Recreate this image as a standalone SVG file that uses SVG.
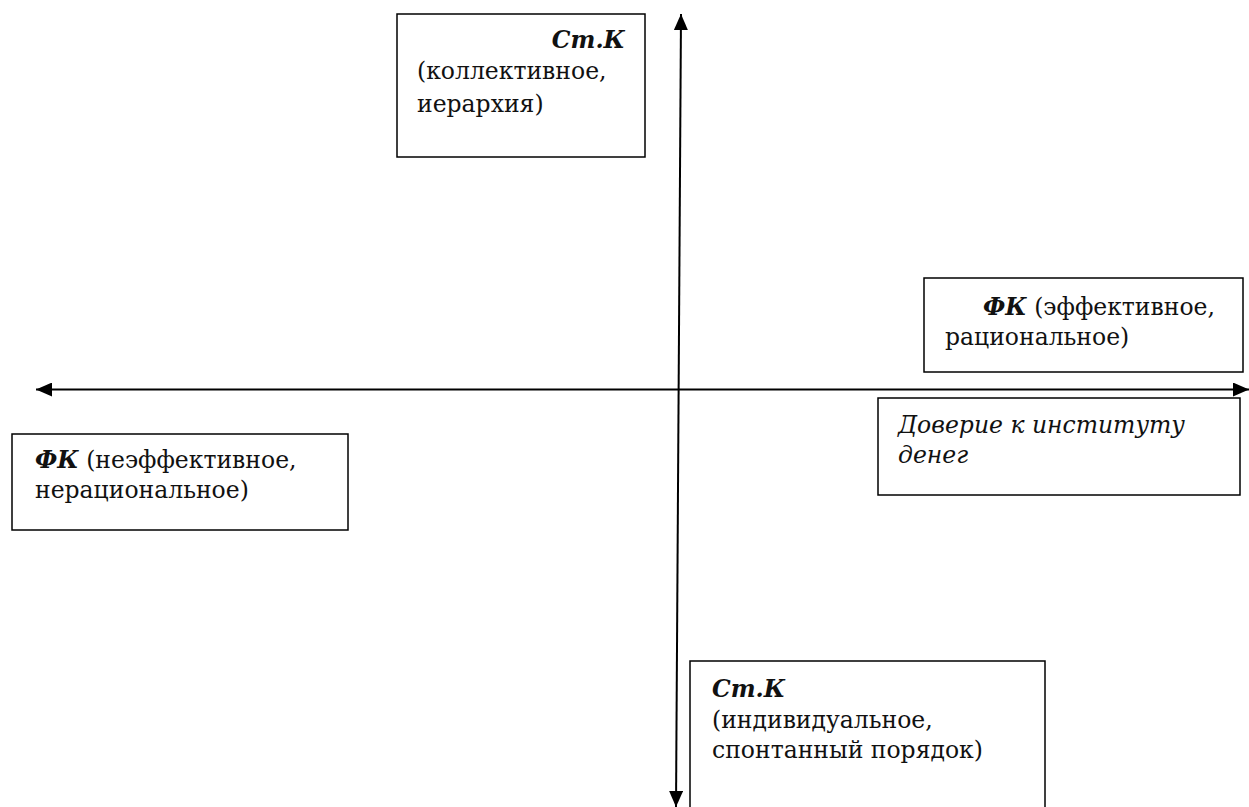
<svg xmlns="http://www.w3.org/2000/svg" width="1249" height="807" viewBox="0 0 1249 807">
<style>
.box{fill:#fff;stroke:#000;stroke-width:1.5}
.t{font-family:"DejaVu Serif","Liberation Serif",serif;font-size:23.5px;fill:#111}
.b{font-weight:bold;font-style:italic}
.i{font-style:italic}
.ax{stroke:#000;stroke-width:2;fill:none}
</style>
<defs>
<marker id="ah" viewBox="0 0 16 14" refX="16" refY="7" markerWidth="16" markerHeight="14" markerUnits="userSpaceOnUse" orient="auto-start-reverse">
<path d="M0,0 L16,7 L0,14 Z" fill="#000"/>
</marker>
</defs>
<rect width="1249" height="807" fill="#fff"/>
<g id="connectors">
<line class="ax" x1="36" y1="389.5" x2="1249" y2="389.5" marker-start="url(#ah)" marker-end="url(#ah)"/>
<line class="ax" x1="681" y1="14" x2="676" y2="807" marker-start="url(#ah)" marker-end="url(#ah)"/>
</g>
<g id="top">
<rect class="box" x="397" y="14" width="248" height="143"/>
<text class="t b" x="625" y="48" text-anchor="end">Ст.К</text>
<text class="t" x="417" y="79">(коллективное,</text>
<text class="t" x="417" y="112">иерархия)</text>
</g>
<g id="right-top">
<rect class="box" x="924" y="278" width="319" height="94"/>
<text class="t" x="983" y="315"><tspan class="b">ФК</tspan> (эффективное,</text>
<text class="t" x="945" y="345">рациональное)</text>
</g>
<g id="right-bottom">
<rect class="box" x="878" y="398" width="362" height="97"/>
<text class="t i" x="898" y="433">Доверие к институту</text>
<text class="t i" x="898" y="463">денег</text>
</g>
<g id="left">
<rect class="box" x="12" y="434" width="336" height="96"/>
<text class="t" x="35" y="468"><tspan class="b">ФК</tspan> (неэффективное,</text>
<text class="t" x="35" y="498">нерациональное)</text>
</g>
<g id="bottom">
<rect class="box" x="690" y="661" width="355" height="160"/>
<text class="t b" x="712" y="697">Ст.К</text>
<text class="t" x="712" y="728">(индивидуальное,</text>
<text class="t" x="712" y="758">спонтанный порядок)</text>
</g>
</svg>
